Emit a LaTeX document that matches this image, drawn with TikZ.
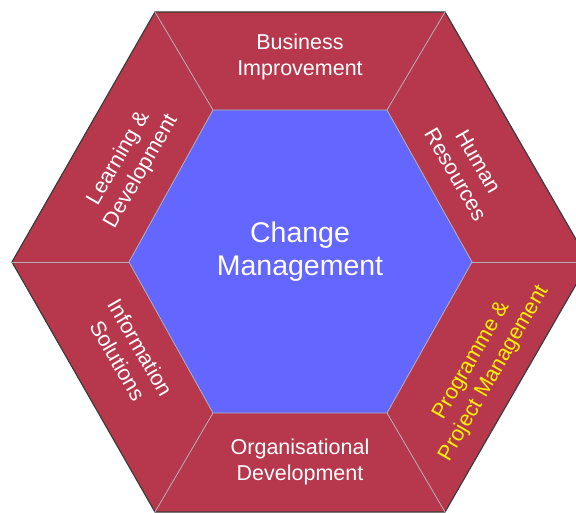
\documentclass[tikz,border=0pt]{standalone}
\usepackage{fontspec}
\setmainfont{Liberation Sans}
\definecolor{segred}{RGB}{183,56,77}
\definecolor{coreblue}{RGB}{99,102,255}
\definecolor{rimgray}{RGB}{60,60,60}
\tikzset{
	seglabel/.style={text=white,align=center,font=\fontsize{21.5}{26}\selectfont},
	divider/.style={draw=gray!60,line width=0.8pt},
}
\begin{document}
\begin{tikzpicture}[x=1pt,y=-1pt]
	\useasboundingbox (0,0) rectangle (576,513);
	\clip (0,0) rectangle (576,513);
	% outer corners
	\coordinate (oL) at (12,262);
	\coordinate (oTL) at (155,12);
	\coordinate (oTR) at (445,12);
	\coordinate (oR) at (589,262);
	\coordinate (oBR) at (445,512);
	\coordinate (oBL) at (155,512);
	% inner corners
	\coordinate (iL) at (129,262);
	\coordinate (iTL) at (213,110);
	\coordinate (iTR) at (387,110);
	\coordinate (iR) at (472,262);
	\coordinate (iBR) at (387,413);
	\coordinate (iBL) at (213,413);
	\fill[segred] (oL)--(oTL)--(oTR)--(oR)--(oBR)--(oBL)--cycle;
	\draw[rimgray,line width=1.2pt] (oL)--(oTL)--(oTR)--(oR)--(oBR)--(oBL)--cycle;
	\draw[divider] (oL)--(iL);
	\draw[divider] (oTL)--(iTL);
	\draw[divider] (oTR)--(iTR);
	\draw[divider] (oR)--(iR);
	\draw[divider] (oBR)--(iBR);
	\draw[divider] (oBL)--(iBL);
	\filldraw[fill=coreblue,draw=gray!60,line width=0.8pt] (iL)--(iTL)--(iTR)--(iR)--(iBR)--(iBL)--cycle;
	\node[text=white,align=center,font=\fontsize{28.5}{33}\selectfont] (core) at (300,252) {Change\\Management};
	\node[seglabel] (busimp) at (300,57) {Business\\Improvement};
	\node[seglabel] (orgdev) at (300,462) {Organisational\\Development};
	\node[seglabel,rotate=60] (learndev) at (130,165) {Learning \&\\Development};
	\node[seglabel,rotate=-60] (humres) at (467,168) {Human\\Resources};
	\node[seglabel,rotate=-60] (infosol) at (129,354) {Information\\Solutions};
	\node[seglabel,rotate=60,text=yellow] (progman) at (483,367) {Programme \&\\Project Management};
\end{tikzpicture}
\end{document}
